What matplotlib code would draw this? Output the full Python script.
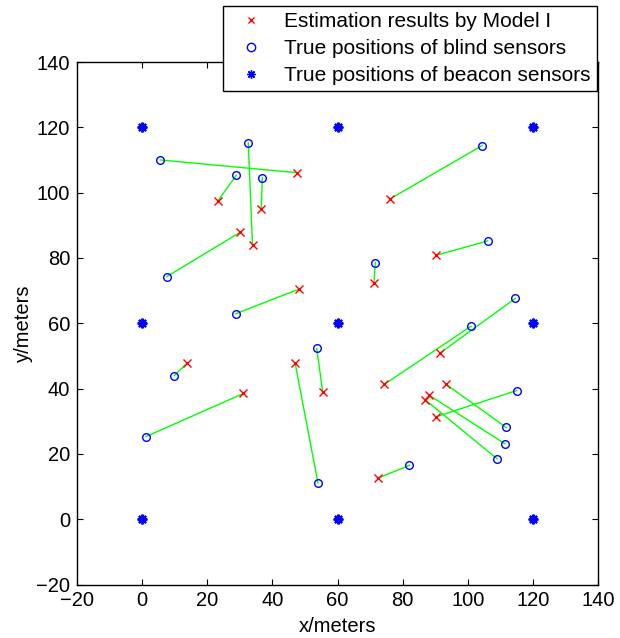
import matplotlib

matplotlib.use("Agg")
import matplotlib.pyplot as plt  # noqa: E402
from matplotlib.lines import Line2D  # noqa: E402

# True positions of blind sensors (x, y) in meters
blind_x = [5.6, 32.6, 28.9, 36.9, 7.6, 104.4, 106.1, 71.6, 28.7, 9.9,
           1.2, 53.6, 54.0, 114.6, 101.0, 115.0, 111.8, 111.4, 109.0, 82.1]
blind_y = [110.0, 115.2, 105.3, 104.6, 74.3, 114.4, 85.2, 78.6, 62.9, 44.0,
           25.3, 52.3, 11.1, 67.6, 59.1, 39.4, 28.1, 23.1, 18.5, 16.5]

# Estimation results by Model I (same order as blind sensors)
est_x = [47.5, 33.9, 23.2, 36.6, 30.2, 76.0, 90.3, 71.2, 48.3, 13.7,
         31.1, 55.5, 47.0, 91.5, 74.4, 90.1, 93.2, 88.1, 87.0, 72.3]
est_y = [106.1, 84.0, 97.4, 95.0, 87.9, 98.0, 80.8, 72.2, 70.5, 47.7,
         38.5, 38.8, 47.7, 50.9, 41.3, 31.3, 41.4, 38.0, 36.5, 12.5]

# Beacon sensors on a 60 m grid
beacon_x = [0, 60, 120, 0, 60, 120, 0, 60, 120]
beacon_y = [0, 0, 0, 60, 60, 60, 120, 120, 120]

ticks = [-20, 0, 20, 40, 60, 80, 100, 120, 140]

plt.rcParams["font.family"] = ["Liberation Sans", "DejaVu Sans"]
plt.rcParams["font.size"] = 14.5

fig = plt.figure(figsize=(6.2, 6.38), dpi=100)
ax = fig.add_axes([77 / 620, 1 - 584.5 / 638, 521 / 620, 522.5 / 638])

for bx, by, ex, ey in zip(blind_x, blind_y, est_x, est_y):
    ax.plot([bx, ex], [by, ey], color="#00ff00", lw=1.0, zorder=1)

ax.plot(est_x, est_y, ls="none", marker="x", color="red", ms=6, mew=1.0, zorder=3)
ax.plot(blind_x, blind_y, ls="none", marker="o", mfc="none", mec="blue",
        ms=5.5, mew=1.0, zorder=3)
ax.plot(beacon_x, beacon_y, ls="none", marker=(8, 2, 0), color="blue",
        ms=7, mew=1.6, zorder=3)

ax.set_xlim(-20, 140)
ax.set_ylim(-20, 140)
ax.set_xticks(ticks)
ax.set_yticks(ticks)
ax.tick_params(direction="in", length=4, width=0.8, top=True, right=True,
               labelsize=14.5, pad=5)
for sp in ax.spines.values():
    sp.set_linewidth(1.0)

ax.set_xlabel("x/meters", fontsize=14.5, labelpad=5)
ax.set_ylabel("y/meters", fontsize=14.5, labelpad=2)

handles = [
    Line2D([], [], ls="none", marker="x", color="red", ms=5, mew=1.0),
    Line2D([], [], ls="none", marker="o", mfc="none", mec="blue", ms=6, mew=1.0),
    Line2D([], [], ls="none", marker=(8, 2, 0), color="blue", ms=6, mew=1.0),
]
labels = ["Estimation results by Model I",
          "True positions of blind sensors",
          "True positions of beacon sensors"]
leg = fig.legend(handles, labels, loc="upper right",
                 bbox_to_anchor=(597 / 620, 1 - 6 / 638),
                 bbox_transform=fig.transFigure, fancybox=False,
                 edgecolor="black", framealpha=1, fontsize=15,
                 borderpad=0.3, labelspacing=0.38, handlelength=2.1,
                 handletextpad=0.55, borderaxespad=0)
leg.get_frame().set_linewidth(1.0)

fig.savefig("out.png", dpi=100)
